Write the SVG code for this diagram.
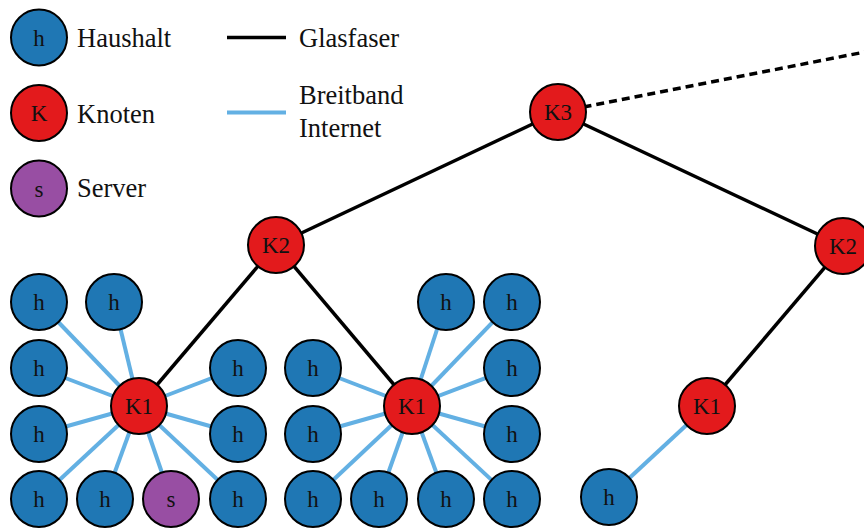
<svg xmlns="http://www.w3.org/2000/svg" width="864" height="531" viewBox="0 0 864 531">
<style>
text{fill:#111}
.lg{font-size:26.5px}
.nl{font-size:23px;text-anchor:middle}
circle{stroke:#000;stroke-width:2}
.h{fill:#1f77b4}
.k{fill:#e31a1c}
.s{fill:#984ea3}
.fib{stroke:#000;stroke-width:3.5;fill:none}
.bb{stroke:#63b0e3;stroke-width:4;fill:none}
</style>
<rect width="864" height="531" fill="#fff"/>
<g id="legend" font-family="Liberation Serif, serif">
<circle class="h" cx="39" cy="37.5" r="28"/><text class="nl" x="39" y="45.5">h</text>
<text class="lg" x="77" y="47">Haushalt</text>
<circle class="k" cx="39" cy="113" r="28"/><text class="nl" x="39" y="121">K</text>
<text class="lg" x="77" y="123">Knoten</text>
<circle class="s" cx="39" cy="188.5" r="28"/><text class="nl" x="39" y="196.5">s</text>
<text class="lg" x="77" y="197">Server</text>
<line class="fib" x1="227" y1="37.5" x2="286" y2="37.5"/>
<text class="lg" x="299" y="47">Glasfaser</text>
<line class="bb" x1="227" y1="112.5" x2="286" y2="112.5"/>
<text class="lg" x="299" y="104">Breitband</text>
<text class="lg" x="299" y="137">Internet</text>
</g>
<g id="connectors">
<line class="fib" x1="558" y1="112" x2="870" y2="51" stroke-dasharray="8 5"/>
<line class="fib" x1="558" y1="112" x2="276" y2="245"/>
<line class="fib" x1="558" y1="112" x2="843" y2="246"/>
<line class="fib" x1="276" y1="245" x2="139" y2="406"/>
<line class="fib" x1="276" y1="245" x2="412" y2="406"/>
<line class="fib" x1="843" y1="246" x2="707" y2="406"/>
<g class="bb">
<line x1="139" y1="406" x2="39" y2="302"/>
<line x1="139" y1="406" x2="114" y2="302"/>
<line x1="139" y1="406" x2="39" y2="368"/>
<line x1="139" y1="406" x2="238" y2="368"/>
<line x1="139" y1="406" x2="39" y2="434"/>
<line x1="139" y1="406" x2="238" y2="434"/>
<line x1="139" y1="406" x2="39" y2="499"/>
<line x1="139" y1="406" x2="105" y2="499"/>
<line x1="139" y1="406" x2="171" y2="499"/>
<line x1="139" y1="406" x2="238" y2="499"/>
<line x1="412" y1="406" x2="446" y2="302"/>
<line x1="412" y1="406" x2="512" y2="302"/>
<line x1="412" y1="406" x2="313" y2="368"/>
<line x1="412" y1="406" x2="512" y2="368"/>
<line x1="412" y1="406" x2="313" y2="434"/>
<line x1="412" y1="406" x2="512" y2="434"/>
<line x1="412" y1="406" x2="313" y2="499"/>
<line x1="412" y1="406" x2="379" y2="499"/>
<line x1="412" y1="406" x2="446" y2="499"/>
<line x1="412" y1="406" x2="512" y2="499"/>
<line x1="707" y1="406" x2="609" y2="497"/>
</g>
</g>
<g id="nodes" font-family="Liberation Serif, serif">
<g id="K3"><circle class="k" cx="558" cy="112" r="28"/><text class="nl" x="558" y="120">K3</text></g>
<g id="K2a"><circle class="k" cx="276" cy="245" r="28"/><text class="nl" x="276" y="253">K2</text></g>
<g id="K2b"><circle class="k" cx="843" cy="246" r="28"/><text class="nl" x="843" y="254">K2</text></g>
<g id="K1a"><circle class="k" cx="139" cy="406" r="28"/><text class="nl" x="139" y="414">K1</text></g>
<g id="K1b"><circle class="k" cx="412" cy="406" r="28"/><text class="nl" x="412" y="414">K1</text></g>
<g id="K1c"><circle class="k" cx="707" cy="406" r="28"/><text class="nl" x="707" y="414">K1</text></g>
<g id="a1"><circle class="h" cx="39" cy="302" r="28"/><text class="nl" x="39" y="310">h</text></g>
<g id="a2"><circle class="h" cx="114" cy="302" r="28"/><text class="nl" x="114" y="310">h</text></g>
<g id="a3"><circle class="h" cx="39" cy="368" r="28"/><text class="nl" x="39" y="376">h</text></g>
<g id="a4"><circle class="h" cx="238" cy="368" r="28"/><text class="nl" x="238" y="376">h</text></g>
<g id="a5"><circle class="h" cx="39" cy="434" r="28"/><text class="nl" x="39" y="442">h</text></g>
<g id="a6"><circle class="h" cx="238" cy="434" r="28"/><text class="nl" x="238" y="442">h</text></g>
<g id="a7"><circle class="h" cx="39" cy="499" r="28"/><text class="nl" x="39" y="507">h</text></g>
<g id="a8"><circle class="h" cx="105" cy="499" r="28"/><text class="nl" x="105" y="507">h</text></g>
<g id="a9"><circle class="s" cx="171" cy="499" r="28"/><text class="nl" x="171" y="507">s</text></g>
<g id="a10"><circle class="h" cx="238" cy="499" r="28"/><text class="nl" x="238" y="507">h</text></g>
<g id="b1"><circle class="h" cx="446" cy="302" r="28"/><text class="nl" x="446" y="310">h</text></g>
<g id="b2"><circle class="h" cx="512" cy="302" r="28"/><text class="nl" x="512" y="310">h</text></g>
<g id="b3"><circle class="h" cx="313" cy="368" r="28"/><text class="nl" x="313" y="376">h</text></g>
<g id="b4"><circle class="h" cx="512" cy="368" r="28"/><text class="nl" x="512" y="376">h</text></g>
<g id="b5"><circle class="h" cx="313" cy="434" r="28"/><text class="nl" x="313" y="442">h</text></g>
<g id="b6"><circle class="h" cx="512" cy="434" r="28"/><text class="nl" x="512" y="442">h</text></g>
<g id="b7"><circle class="h" cx="313" cy="499" r="28"/><text class="nl" x="313" y="507">h</text></g>
<g id="b8"><circle class="h" cx="379" cy="499" r="28"/><text class="nl" x="379" y="507">h</text></g>
<g id="b9"><circle class="h" cx="446" cy="499" r="28"/><text class="nl" x="446" y="507">h</text></g>
<g id="b10"><circle class="h" cx="512" cy="499" r="28"/><text class="nl" x="512" y="507">h</text></g>
<g id="c1"><circle class="h" cx="609" cy="497" r="28"/><text class="nl" x="609" y="505">h</text></g>
</g>
</svg>
